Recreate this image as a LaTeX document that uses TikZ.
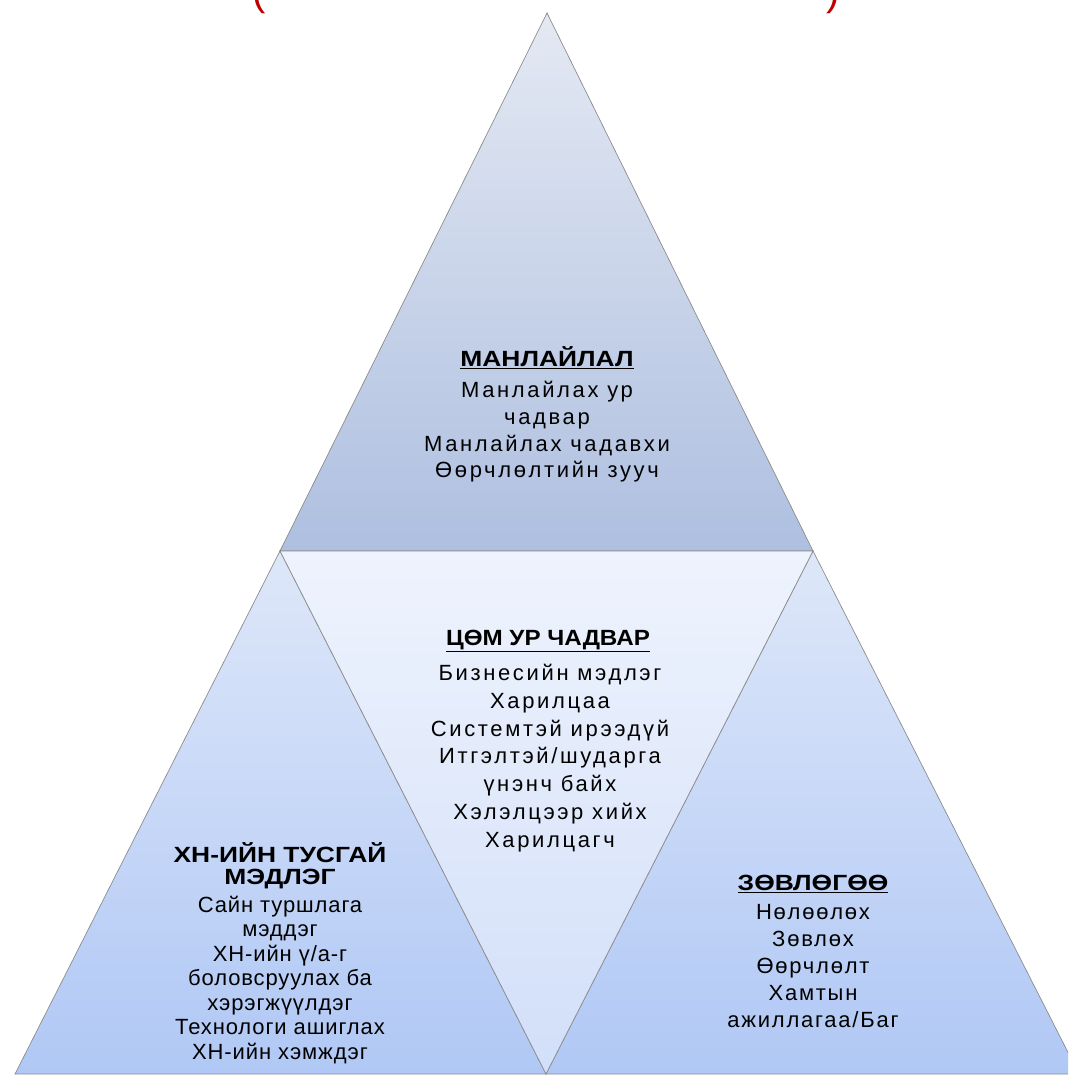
\documentclass[tikz,border=0pt]{standalone}
\usepackage{fontspec}
\setmainfont{Liberation Sans}
\definecolor{leadtop}{HTML}{E4E9F3}
\definecolor{leadbot}{HTML}{AEBFE0}
\definecolor{coretop}{HTML}{EEF3FD}
\definecolor{corebot}{HTML}{D2DFF9}
\definecolor{sidetop}{HTML}{DEE7F9}
\definecolor{sidebot}{HTML}{B0C8F5}
\definecolor{parenred}{HTML}{C00000}
\begin{document}
\begin{tikzpicture}[x=1pt,y=-1pt,
  edge/.style={draw=black!45,line width=0.7pt},
  title/.style={font=\fontsize{22}{22}\selectfont\bfseries\addfontfeature{FakeStretch=#1},align=center,inner sep=0pt},
  title/.default=1.2,
  body/.style 2 args={font=\fontsize{22}{#1}\selectfont\addfontfeature{LetterSpace=#2},align=center,inner sep=0pt}]
\useasboundingbox (0,0) rectangle (1068,1086);
\clip (0,0) rectangle (1068,1086);

% Corners of the big triangle
\coordinate (apex) at (547,13);
\coordinate (midL) at (280,551);
\coordinate (midR) at (813,551);
\coordinate (botL) at (15,1074);
\coordinate (botM) at (546,1074);
\coordinate (botR) at (1079,1074);

% Draw the four triangles
\shade[edge,top color=leadtop,bottom color=leadbot] (apex) -- (midL) -- (midR) -- cycle;
\shade[edge,top color=sidetop,bottom color=sidebot] (midL) -- (botL) -- (botM) -- cycle;
\shade[edge,top color=sidetop,bottom color=sidebot] (midR) -- (botM) -- (botR) -- cycle;
\shade[edge,top color=coretop,bottom color=corebot] (midL) -- (midR) -- (botM) -- cycle;

% Lower ends of the cut-off red title
\node[text=parenred,font=\fontsize{40}{40}\selectfont,anchor=south,inner sep=0pt] (lparen) at (259,14) {(};
\node[text=parenred,font=\fontsize{40}{40}\selectfont,anchor=south,inner sep=0pt] (rparen) at (833,14) {)};

% Top triangle
\node[title] (leadtitle) at (547,358) {\underline{МАНЛАЙЛАЛ}};
\node[body={26.7}{12}] (leadbody) at (547,432) {Манлайлах ур\\чадвар\\Манлайлах чадавхи\\Өөрчлөлтийн зууч};

% Middle triangle
\node[title=1.1] (coretitle) at (548,641) {\underline{ЦӨМ УР ЧАДВАР}};
\node[body={27.8}{12}] (corebody) at (550,758) {Бизнесийн мэдлэг\\Харилцаа\\Системтэй ирээдүй\\Итгэлтэй/шударга\\үнэнч байх\\Хэлэлцээр хийх\\Харилцагч};

% Left triangle
\node[title] (hrtitle) at (280,866) {ХН-ИЙН ТУСГАЙ\\МЭДЛЭГ};
\node[body={24.5}{4}] (hrbody) at (280,980) {Сайн туршлага\\мэддэг\\ХН-ийн ү/а-г\\боловсруулах ба\\хэрэгжүүлдэг\\Технологи ашиглах\\ХН-ийн хэмждэг};

% Right triangle
\node[title] (advtitle) at (813,884) {\underline{ЗӨВЛӨГӨӨ}};
\node[body={27}{8}] (advbody) at (813,966) {Нөлөөлөх\\Зөвлөх\\Өөрчлөлт\\Хамтын\\ажиллагаа/Баг};
\end{tikzpicture}
\end{document}
